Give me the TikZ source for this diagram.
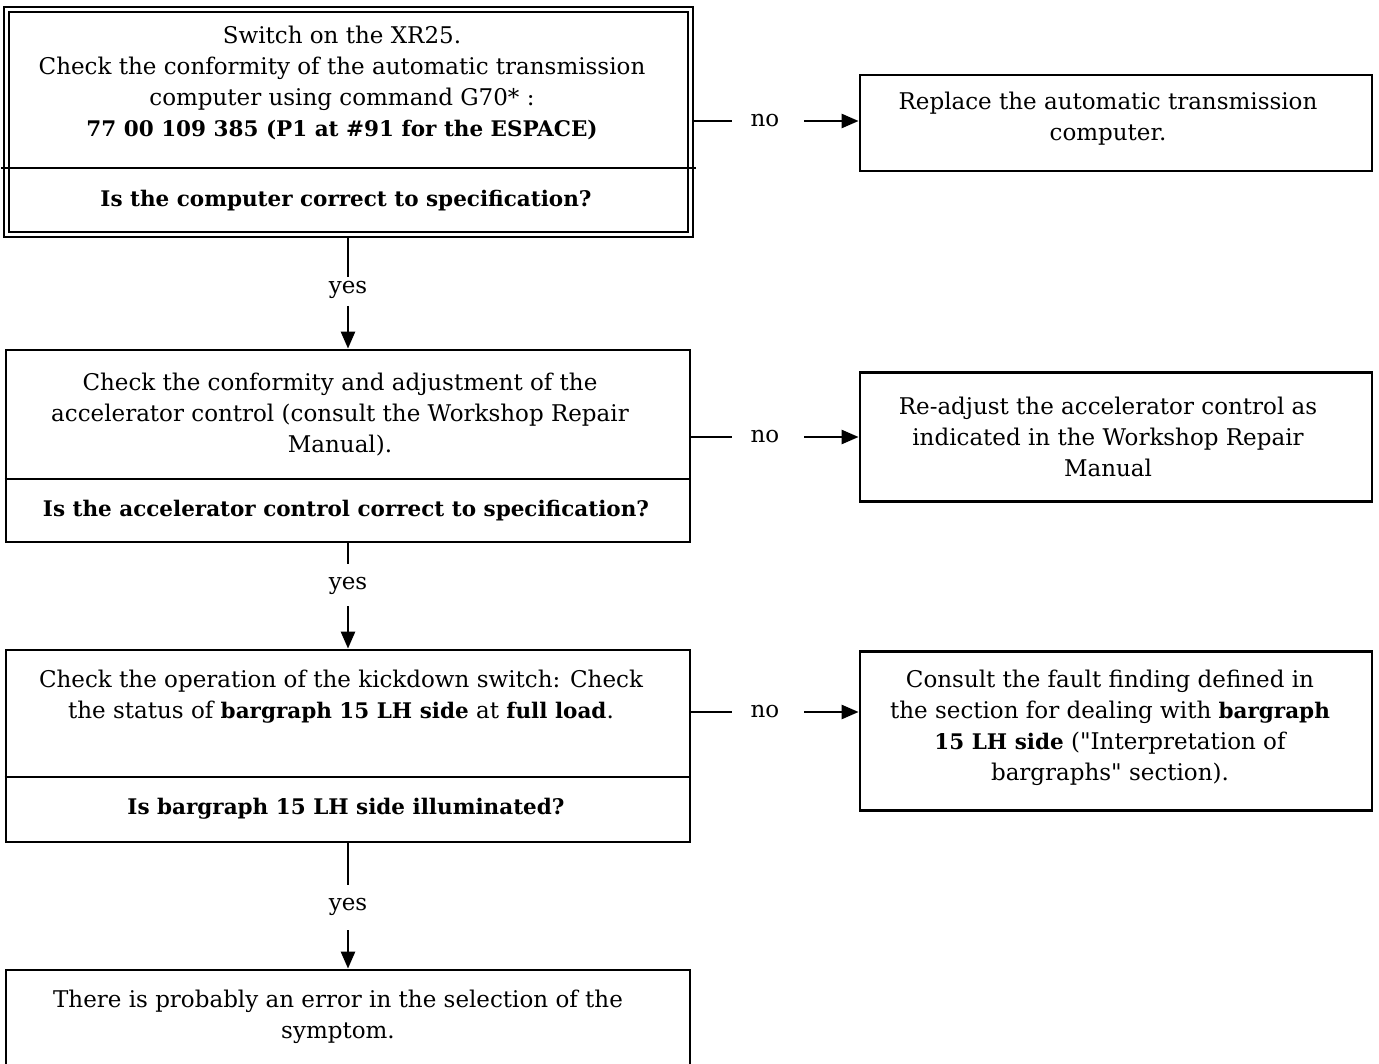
\documentclass[tikz,border=0pt]{standalone}
\usepackage{fontspec}
\setmainfont{DejaVu Serif}[Ligatures=TeXOff]
\usetikzlibrary{arrows.meta}
\newcommand{\bb}[1]{{\fontsize{21.5}{31}\selectfont\bfseries #1}}
\tikzset{
  box/.style={draw, line width=2.8pt, rectangle, inner sep=0pt},
  dline/.style={line width=2pt},
  txt/.style={align=center, inner sep=0pt, font=\fontsize{23}{31}\selectfont},
  lbl/.style={inner sep=0pt, font=\fontsize{23}{25}\selectfont},
  conn/.style={line width=2.6pt},
  arr/.style={line width=2.6pt, -{Triangle[length=17pt,width=14pt]}},
}
\begin{document}
\begin{tikzpicture}[x=1pt,y=-1pt]
\useasboundingbox[fill=white] (0,0) rectangle (1379,1064);
% ---------- box 1 (double border) ----------
\node[draw, dline, minimum width=689pt, minimum height=230pt] (b1) at (348,122) {};
\node[draw, dline, minimum width=679pt, minimum height=220pt] (b1in) at (348,122) {};
\draw[line width=2.8pt] (1,168) -- (696,168);
\node[txt] (b1t) at (342,83) {Switch on the XR25.\\Check the conformity of the automatic transmission\\computer using command G70* :\\\bb{77 00 109 385 (P1 at \#91 for the ESPACE)}};
\node[txt] (b1q) at (346,201) {\bb{Is the computer correct to specification?}};
% right box 1
\node[box, minimum width=512pt, minimum height=96pt] (r1) at (1116,123) {};
\node[txt] (r1t) at (1108,119) {Replace the automatic transmission\\computer.};
% ---------- box 2 ----------
\node[box, minimum width=684pt, minimum height=192pt] (b2) at (348,446) {};
\draw[line width=2.8pt] (b2.west |- 0,479) -- (b2.east |- 0,479);
\node[txt] (b2t) at (340,415) {Check the conformity and adjustment of the\\accelerator control (consult the Workshop Repair\\Manual).};
\node[txt] (b2q) at (346,511) {\bb{Is the accelerator control correct to specification?}};
% right box 2
\node[box, minimum width=512pt, minimum height=129pt] (r2) at (1116,437) {};
\node[txt] (r2t) at (1108,437) {Re-adjust the accelerator control as\\indicated in the Workshop Repair\\Manual};
% ---------- box 3 ----------
\node[box, minimum width=684pt, minimum height=192pt] (b3) at (348,746) {};
\draw[line width=2.8pt] (b3.west |- 0,777) -- (b3.east |- 0,777);
\node[txt] (b3t) at (341,697) {Check the operation of the kickdown switch: Check\\the status of \bb{bargraph 15 LH side} at \bb{full load}.};
\node[txt] (b3q) at (346,809) {\bb{Is bargraph 15 LH side illuminated?}};
% right box 3
\node[box, minimum width=512pt, minimum height=159pt] (r3) at (1116,731) {};
\node[txt] (r3t) at (1110,728) {Consult the fault finding defined in\\the section for dealing with \bb{bargraph}\\\bb{15 LH side} ("Interpretation of\\bargraphs" section).};
% ---------- box 4 ----------
\node[box, minimum width=684pt, minimum height=110pt] (b4) at (348,1025) {};
\node[txt] (b4t) at (338,1017) {There is probably an error in the selection of the\\symptom.};
% ---------- no connectors ----------
\node[lbl] (n1) at (765,121) {no};
\node[lbl] (n2) at (765,437) {no};
\node[lbl] (n3) at (765,712) {no};
\coordinate (n1a) at (732,121); \coordinate (n1b) at (804,121);
\coordinate (n2a) at (732,437); \coordinate (n2b) at (804,437);
\coordinate (n3a) at (732,712); \coordinate (n3b) at (804,712);
\draw[conn] (b1.east |- n1) -- (n1a);
\draw[arr] (n1b) -- (r1.west |- n1);
\draw[conn] (b2.east |- n2) -- (n2a);
\draw[arr] (n2b) -- (r2.west |- n2);
\draw[conn] (b3.east |- n3) -- (n3a);
\draw[arr] (n3b) -- (r3.west |- n3);
% ---------- yes connectors ----------
\node[lbl] (y1) at (348,290) {yes};
\node[lbl] (y2) at (348,586) {yes};
\node[lbl] (y3) at (348,907) {yes};
\coordinate (y1a) at (348,277); \coordinate (y1b) at (348,306);
\coordinate (y2a) at (348,564); \coordinate (y2b) at (348,606);
\coordinate (y3a) at (348,885); \coordinate (y3b) at (348,930);
\draw[conn] (b1.south) -- (y1a);
\draw[arr] (y1b) -- (b2.north);
\draw[conn] (b2.south) -- (y2a);
\draw[arr] (y2b) -- (b3.north);
\draw[conn] (b3.south) -- (y3a);
\draw[arr] (y3b) -- (b4.north);
\end{tikzpicture}
\end{document}
